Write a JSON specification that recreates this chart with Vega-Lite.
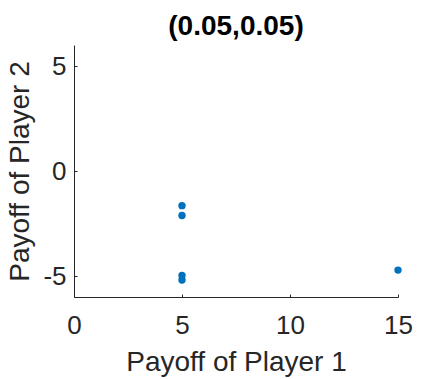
{
  "$schema": "https://vega.github.io/schema/vega-lite/v6.json",
  "width": 324,
  "height": 252,
  "autosize": "none",
  "padding": {"left": 74, "top": 45, "right": 43, "bottom": 82},
  "background": "white",
  "title": {"text": "(0.05,0.05)", "font": "Liberation Sans", "fontSize": 28, "fontWeight": "bold", "color": "#000000", "offset": 4, "anchor": "middle"},
  "config": {"view": {"stroke": null}},
  "data": {"values": [
    {"p1": 5, "p2": -1.65},
    {"p1": 5, "p2": -2.12},
    {"p1": 5, "p2": -4.98},
    {"p1": 5, "p2": -5.19},
    {"p1": 15, "p2": -4.72}
  ]},
  "mark": {"type": "point", "filled": true, "shape": "circle", "size": 55, "color": "#0072BD", "opacity": 1},
  "encoding": {
    "x": {"field": "p1", "type": "quantitative", "scale": {"domain": [0, 15], "nice": false, "zero": false},
      "axis": {"title": "Payoff of Player 1", "values": [0, 5, 10, 15], "grid": false, "tickSize": -3, "domainColor": "#262626", "tickColor": "#262626",
        "labelExpr": "toString(datum.value)",
        "labelFont": "Liberation Sans", "labelFontSize": 26, "labelColor": "#262626", "labelPadding": 18, "labelFlush": false,
        "titleFont": "Liberation Sans", "titleFontSize": 28, "titleFontWeight": "normal", "titleColor": "#262626", "titlePadding": 10}},
    "y": {"field": "p2", "type": "quantitative", "scale": {"domain": [-6, 6], "nice": false, "zero": false},
      "axis": {"title": "Payoff of Player 2", "values": [-5, 0, 5], "grid": false, "tickSize": -3, "domainColor": "#262626", "tickColor": "#262626",
        "labelExpr": "toString(datum.value)",
        "labelFont": "Liberation Sans", "labelFontSize": 26, "labelColor": "#262626", "labelPadding": 11, "labelFlush": false,
        "titleFont": "Liberation Sans", "titleFontSize": 28, "titleFontWeight": "normal", "titleColor": "#262626", "titlePadding": 8}}
  }
}
